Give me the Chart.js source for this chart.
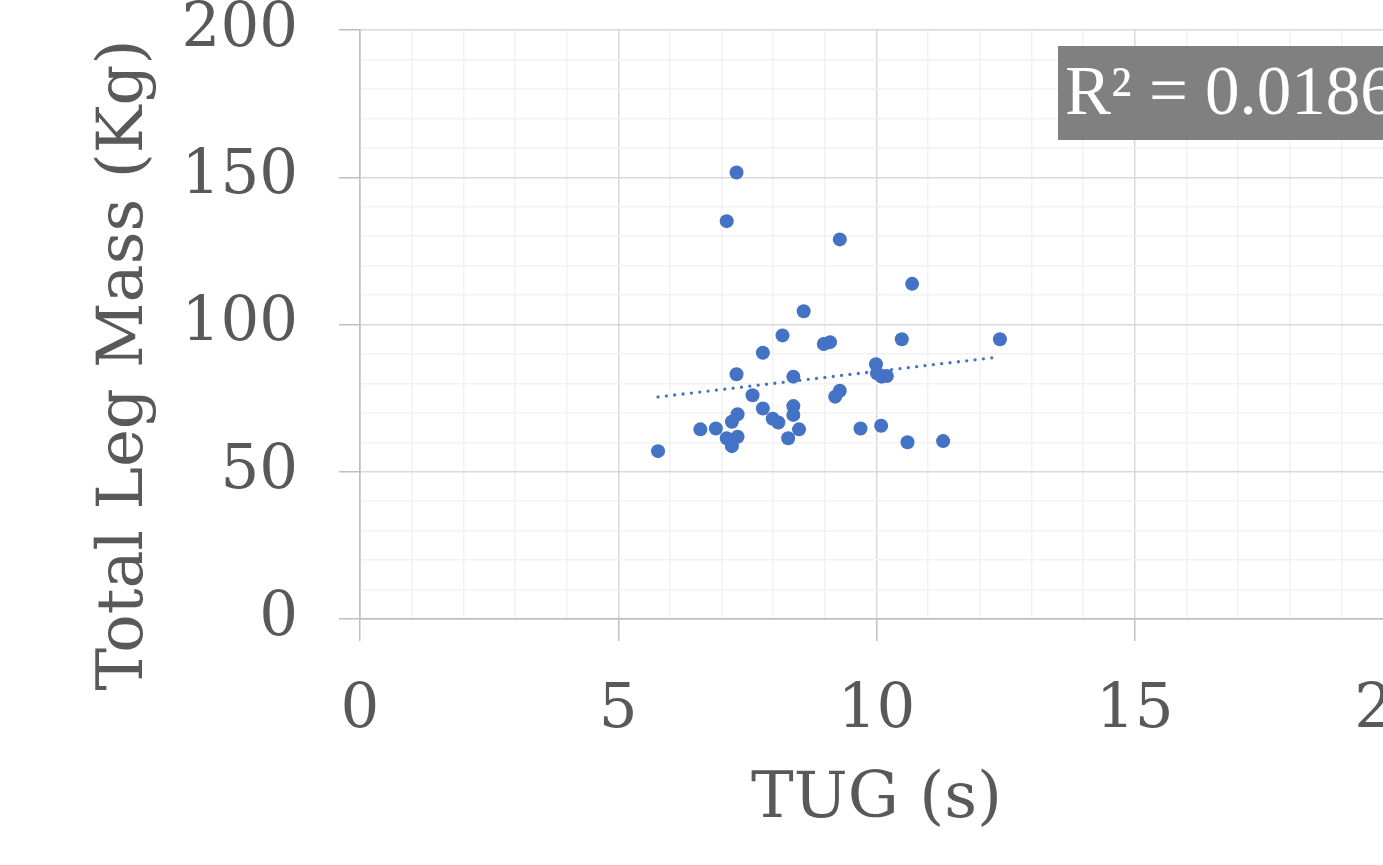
<!DOCTYPE html>
<html>
<head>
<meta charset="utf-8">
<script src="https://cdn.jsdelivr.net/npm/chart.js@4"></script>
<style>
  html, body { margin: 0; padding: 0; background: #fff; overflow: hidden; }
  canvas { display: block; }
</style>
</head>
<body>
<canvas id="scatterChart" width="1440" height="865"></canvas>
<script>
// data
const tugValues = [5.77, 6.59, 6.89, 7.10, 7.20, 7.31, 7.20, 7.31, 7.29, 7.60, 7.80, 7.80, 7.99, 8.10, 8.18, 8.29, 8.39, 8.39, 8.39, 8.50,
    8.98, 9.10, 9.20, 9.29, 9.69, 9.99, 10.01, 10.10, 10.20, 10.09, 10.49, 10.60, 11.29, 12.39,
    7.29, 7.10, 9.29, 10.69, 8.59];
const legMassValues = [57.0, 64.4, 64.7, 61.4, 58.7, 61.9, 67.0, 69.5, 83.1, 76.0, 90.4, 71.5, 68.0, 66.7, 96.3, 61.4, 82.3, 72.3, 69.3, 64.4,
    93.4, 94.0, 75.5, 77.5, 64.7, 86.5, 83.4, 82.3, 82.5, 65.6, 95.0, 60.0, 60.4, 95.0,
    151.6, 135.1, 128.9, 113.8, 104.5];
const trendX = [5.77, 12.39];
const trendY = [75.4, 89.0];
const xMajorTicks = [0, 5, 10, 15, 20];
const yMajorTicks = [0, 50, 100, 150, 200];
const yTitle = 'Total Leg Mass (Kg)';
const rSquaredText = 'R² = 0.0186';

const points = tugValues.map((x, i) => ({ x: x, y: legMassValues[i] }));
const trend = trendX.map((x, i) => ({ x: x, y: trendY[i] }));

const serif = '"DejaVu Serif", "Liberation Serif", serif';
const textGrey = '#595959';

function gridColor(majors) {
    return ctx => {
        const v = ctx.tick.value;
        if (v === 0) return '#bfbfbf';
        return majors.includes(v) ? '#d9d9d9' : '#f2f2f2';
    };
}
function tickColor(majors) {
    return ctx => majors.includes(ctx.tick.value) ? '#bfbfbf' : 'rgba(0,0,0,0)';
}

// y title sits a bit below the axis middle, plus the grey R² box
const extraText = {
    id: 'extraText',
    afterDraw(chart) {
        const c = chart.ctx;
        c.save();
        c.translate(125, 365);
        c.rotate(-Math.PI / 2);
        c.fillStyle = textGrey;
        c.font = '64px ' + serif;
        c.textAlign = 'center';
        c.textBaseline = 'middle';
        c.fillText(yTitle, 0, 0);
        c.restore();

        c.save();
        c.fillStyle = '#808080';
        c.fillRect(1058, 46, 400, 94);
        c.fillStyle = '#ffffff';
        c.font = '69px "Liberation Serif", serif';
        c.textBaseline = 'middle';
        c.textAlign = 'left';
        c.fillText(rSquaredText, 1065, 96);
        c.restore();
    }
};

const ctx = document.getElementById('scatterChart').getContext('2d');
new Chart(ctx, {
    type: 'scatter',
    data: {
        datasets: [{
            label: 'Total Leg Mass',
            data: points,
            backgroundColor: '#4472c4',
            borderWidth: 0,
            pointRadius: 7,
            pointHoverRadius: 7
        }, {
            label: 'Trend',
            data: trend,
            showLine: true,
            borderColor: '#4472c4',
            borderWidth: 3.3,
            borderDash: [0, 8.4],
            borderCapStyle: 'round',
            pointRadius: 0,
            fill: false
        }]
    },
    options: {
        responsive: false,
        animation: false,
        layout: { padding: { top: 30, left: 0, right: 47, bottom: 0 } },
        plugins: { legend: { display: false }, tooltip: { enabled: false } },
        scales: {
            x: {
                type: 'linear',
                min: 0,
                max: 20,
                afterFit: s => { s.height = 246; s.paddingLeft = 0; s.paddingRight = 0; },
                ticks: {
                    stepSize: 1,
                    autoSkip: false,
                    maxRotation: 0,
                    maxTicksLimit: 50,
                    padding: 34,
                    color: textGrey,
                    font: { family: serif, size: 61 },
                    callback: v => xMajorTicks.includes(v) ? String(v) : ''
                },
                grid: {
                    color: gridColor(xMajorTicks),
                    tickColor: tickColor(xMajorTicks),
                    tickLength: 22,
                    lineWidth: 1.5
                },
                border: { color: '#bfbfbf', width: 1.5 },
                title: {
                    display: true,
                    text: 'TUG (s)',
                    color: textGrey,
                    font: { family: serif, size: 64 },
                    padding: { top: 0, bottom: 26 }
                }
            },
            y: {
                type: 'linear',
                min: 0,
                max: 200,
                afterFit: s => { s.width = 360; s.paddingTop = 0; s.paddingBottom = 0; },
                ticks: {
                    stepSize: 10,
                    autoSkip: false,
                    maxTicksLimit: 50,
                    padding: 41,
                    color: textGrey,
                    font: { family: serif, size: 61 },
                    callback: v => yMajorTicks.includes(v) ? String(v) : ''
                },
                grid: {
                    color: gridColor(yMajorTicks),
                    tickColor: tickColor(yMajorTicks),
                    tickLength: 21,
                    lineWidth: 1.5
                },
                border: { color: '#bfbfbf', width: 1.5 }
            }
        }
    },
    plugins: [extraText]
});
</script>
</body>
</html>
